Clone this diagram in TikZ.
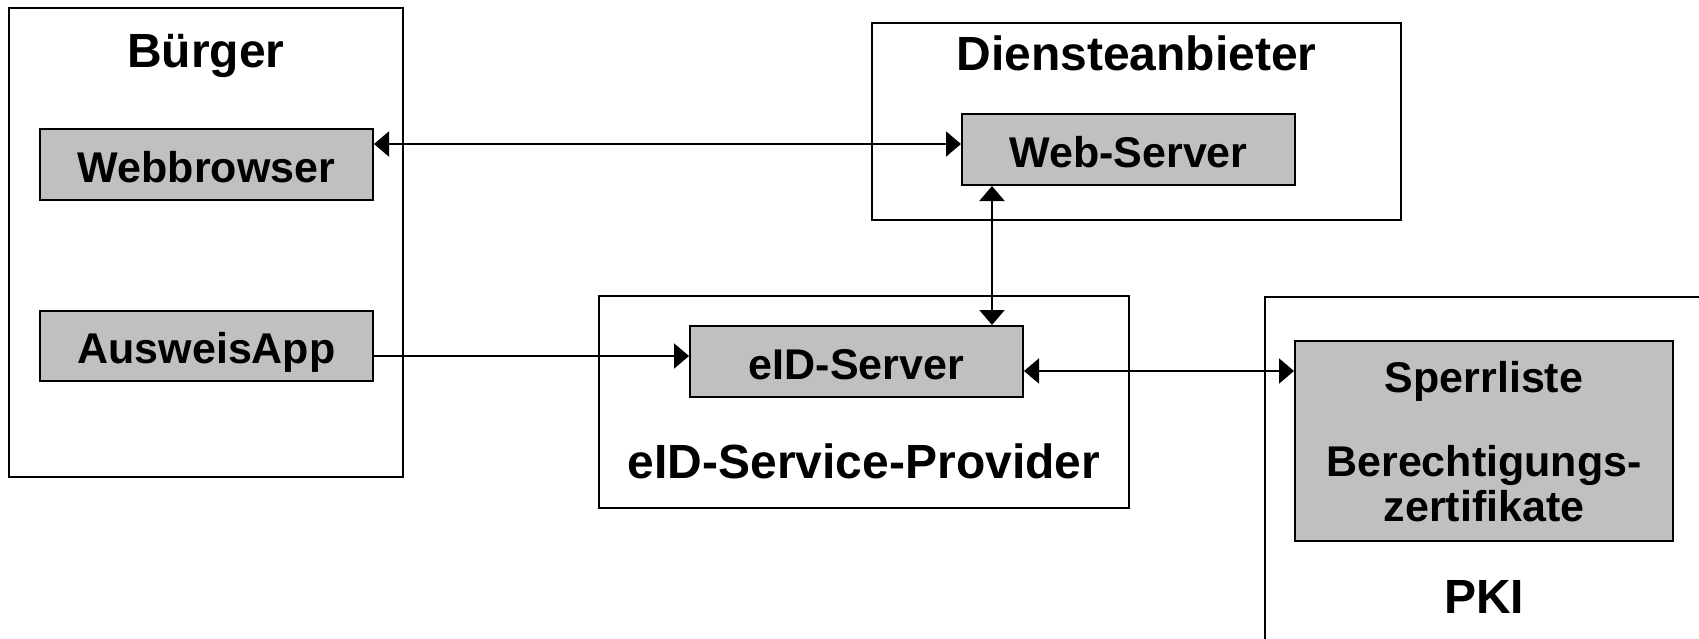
\documentclass[tikz,border=0pt]{standalone}
\usepackage{fontspec}
\setmainfont{Liberation Sans}
\usetikzlibrary{arrows.meta}
\definecolor{boxgray}{HTML}{C0C0C0}
\tikzset{
  outerbox/.style={draw=black, line width=1pt, fill=none, rectangle, inner sep=0pt},
  graybox/.style={draw=black, line width=1pt, fill=boxgray, rectangle, inner sep=0pt,
    font=\fontsize{21.5pt}{22.5pt}\selectfont\bfseries, text height=17.8pt, text depth=0pt},
  innertext/.style={font=\fontsize{21.5pt}{22.5pt}\selectfont\bfseries, anchor=base, inner sep=0pt},
  titletext/.style={font=\fontsize{24pt}{26pt}\selectfont\bfseries, anchor=base, inner sep=0pt},
  conn/.style={line width=1pt, draw=black},
  mytip/.tip={Triangle[length=7.5pt,width=12.5pt]}
}
\begin{document}
\begin{tikzpicture}[x=0.5pt,y=-0.5pt]
\useasboundingbox (0,0) rectangle (1699,638);
\clip (0,0) rectangle (1699,638);
\fill[white] (0,0) rectangle (1699,638);
% outer boxes
\node[outerbox, minimum width=197pt, minimum height=234.5pt] (buerger) at (206,242.5) {};
\node[outerbox, minimum width=264.5pt, minimum height=98.5pt] (dienst) at (1136.5,121.5) {};
\node[outerbox, minimum width=265pt, minimum height=106pt] (eidsp) at (864,402) {};
\node[outerbox, minimum width=300pt, minimum height=250pt, anchor=north west] (pki) at (1264,296) {};
% titles
\node[titletext] (tbuerger) at (206,67) {Bürger};
\node[titletext] (tdienst) at (1136.5,70) {Diensteanbieter};
\node[titletext] (teidsp) at (864,478) {eID-Service-Provider};
\node[titletext] (tpki) at (1484,613) {PKI};
% gray boxes
\node[graybox, minimum width=166.5pt, minimum height=35.5pt] (wb) at (206.5,164.5) {Webbrowser};
\node[graybox, minimum width=166.5pt, minimum height=35pt] (aa) at (206.5,346) {AusweisApp};
\node[graybox, minimum width=166.5pt, minimum height=35.5pt] (ws) at (1128.5,149.5) {Web-Server};
\node[graybox, minimum width=166.5pt, minimum height=35.5pt] (eid) at (856.5,361.5) {eID-Server};
\node[graybox, minimum width=189pt, minimum height=100pt] (sp) at (1484,441) {};
\node[innertext] (sp1) at (1484,392.7) {Sperrliste};
\node[innertext] (sp2) at (1484,476.7) {Berechtigungs-};
\node[innertext] (sp3) at (1484,521.7) {zertifikate};
% connector levels
\coordinate (y1) at (0,144);
\coordinate (y2) at (0,356);
\coordinate (y3) at (0,371);
\coordinate (x1) at (992,0);
% connectors
\draw[conn, mytip-mytip] (wb.east |- y1) -- (ws.west |- y1);
\draw[conn, -mytip] (aa.east |- y2) -- (eid.west |- y2);
\draw[conn, mytip-mytip] (x1 |- ws.south) -- (x1 |- eid.north);
\draw[conn, mytip-mytip] (eid.east |- y3) -- (sp.west |- y3);
\end{tikzpicture}
\end{document}
